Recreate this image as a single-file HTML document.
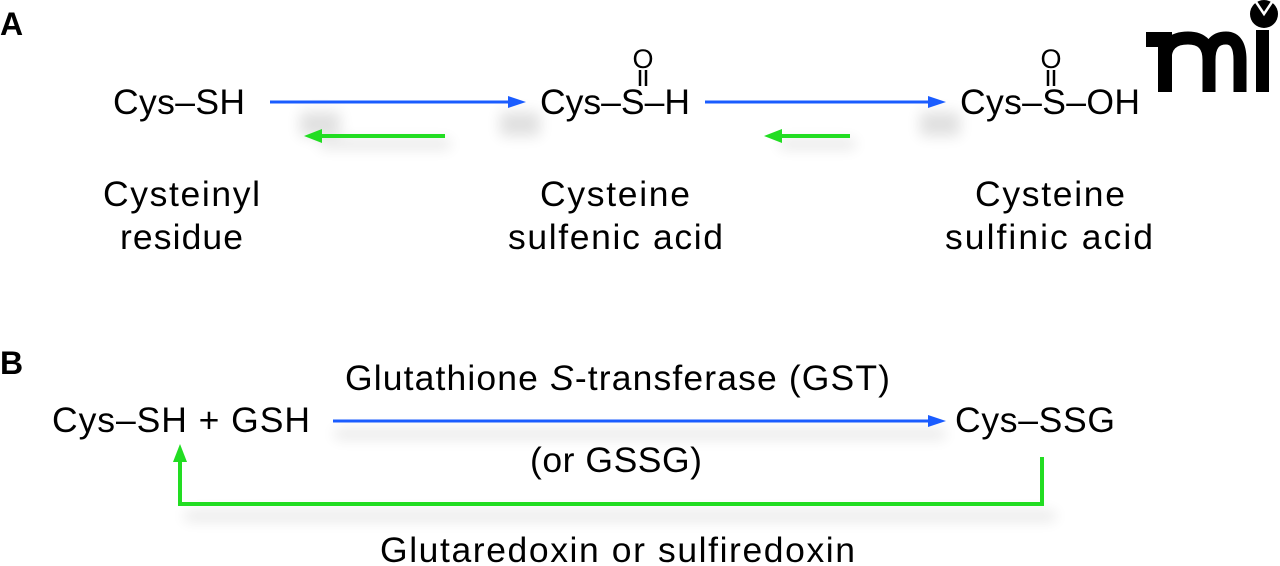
<!DOCTYPE html>
<html><head><style>html,body{margin:0;padding:0;background:#fff;width:1280px;height:566px;overflow:hidden}
svg text{font-family:"Liberation Sans",Arial,sans-serif;fill:#000}</style></head><body>
<svg width="1280" height="566" viewBox="0 0 1280 566">
<defs><filter id="b" x="-20%" y="-200%" width="140%" height="500%"><feGaussianBlur stdDeviation="7"/></filter></defs>
<g fill="#000" opacity="0.12" filter="url(#b)">
<rect x="320" y="140" width="130" height="8"/><rect x="780" y="140" width="75" height="8"/>
<rect x="300" y="112" width="40" height="24"/><rect x="500" y="112" width="40" height="24"/><rect x="920" y="112" width="40" height="24"/>
<rect x="335" y="430" width="610" height="8"/><rect x="185" y="512" width="870" height="8"/>
</g>
<g font-size="35.5">
<text x="0" y="35" font-weight="bold" font-size="32">A</text>
<text x="0" y="374" font-weight="bold" font-size="32">B</text>
<text x="113" y="114" textLength="132">Cys–SH</text>
<text x="540" y="114" textLength="150">Cys–S–H</text>
<text x="960" y="114" textLength="180">Cys–S–OH</text>
<text x="643" y="68" font-size="27" text-anchor="middle">O</text>
<text x="1051" y="68" font-size="27" text-anchor="middle">O</text>
<text x="103" y="206" textLength="157">Cysteinyl</text>
<text x="120" y="249" textLength="123">residue</text>
<text x="540" y="206" textLength="150">Cysteine</text>
<text x="508" y="249" textLength="215">sulfenic acid</text>
<text x="975" y="206" textLength="150">Cysteine</text>
<text x="945" y="249" textLength="208">sulfinic acid</text>
<text x="345" y="390" textLength="545">Glutathione <tspan font-style="italic">S</tspan>-transferase (GST)</text>
<text x="52" y="432" textLength="258">Cys–SH + GSH</text>
<text x="955" y="432" textLength="160">Cys–SSG</text>
<text x="530" y="472" textLength="172">(or GSSG)</text>
<text x="380" y="562" textLength="475">Glutaredoxin or sulfiredoxin</text>
</g>
<g stroke="#000" stroke-width="2.5"><line x1="640" y1="70" x2="640" y2="86"/><line x1="646" y1="70" x2="646" y2="86"/>
<line x1="1048" y1="70" x2="1048" y2="86"/><line x1="1054" y1="70" x2="1054" y2="86"/></g>
<g stroke="#1a5cff" stroke-width="3"><line x1="270" y1="102" x2="512" y2="102"/><line x1="705" y1="102" x2="932" y2="102"/><line x1="333" y1="421" x2="932" y2="421"/></g>
<g fill="#1a5cff"><polygon points="526,102 508,96 508,108"/><polygon points="946,102 928,96 928,108"/><polygon points="946,421 928,415 928,427"/></g>
<g stroke="#22dd22" stroke-width="4" fill="none"><line x1="445" y1="136" x2="318" y2="136"/><line x1="850" y1="136" x2="778" y2="136"/>
<polyline points="1042,457 1042,504 180,504 180,460"/></g>
<g fill="#22dd22"><polygon points="304,136 322,129 322,143"/><polygon points="764,136 782,129 782,143"/><polygon points="180,444 173,462 187,462"/></g>
<g fill="#000">
<rect x="1146" y="32" width="26" height="15"/>
<rect x="1158" y="32" width="14" height="60"/>
</g>
<g stroke="#000" stroke-width="13" fill="none">
<path d="M1165,60 Q1165,38 1188,38 Q1209,38 1209,60 L1209,92"/>
<path d="M1209,60 Q1209,38 1226,38 Q1240,38 1240,60 L1240,92"/>
</g>
<rect x="1256" y="30" width="13" height="62" fill="#000"/>
<circle cx="1264" cy="14" r="14" fill="#000"/>
<polyline points="1256,2 1264,14 1272,2" stroke="#fff" stroke-width="2.5" fill="none"/>
</svg>
</body></html>
